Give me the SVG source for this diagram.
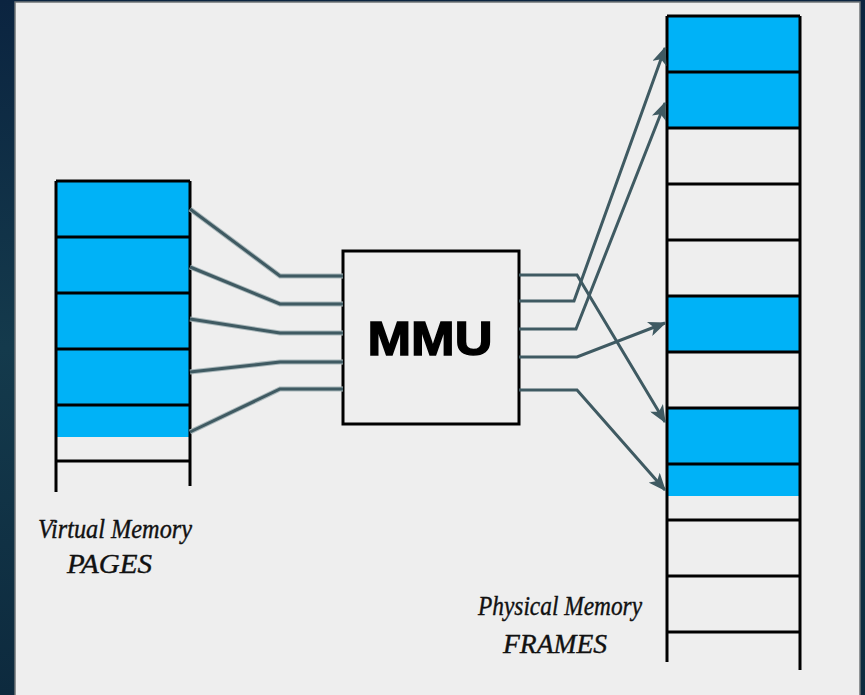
<svg xmlns="http://www.w3.org/2000/svg" width="865" height="695" viewBox="0 0 865 695">
  <defs>
    <linearGradient id="bg" x1="0" y1="0" x2="0" y2="1">
      <stop offset="0" stop-color="#0b2440"/>
      <stop offset="0.5" stop-color="#143a4c"/>
      <stop offset="1" stop-color="#0d2a3e"/>
    </linearGradient>
    <marker id="arrow" viewBox="0 0 12 10" refX="11" refY="5" markerWidth="6" markerHeight="5" orient="auto" markerUnits="strokeWidth">
      <path d="M0,0 L12,5 L0,10 L3,5 Z" fill="#3f5a62"/>
    </marker>
    <style>
      .cell { stroke: #000; stroke-width: 3; fill: none; }
      .blue { fill: #00b2f7; }
      .conn { fill: none; stroke: #3f5a62; stroke-width: 3; stroke-linejoin: miter; }
      .halo { fill: none; stroke: #a9b7ba; stroke-width: 5; }
      .lbl { font-family: "Liberation Serif", "Times New Roman", serif; font-style: italic; fill: #111; stroke: #111; stroke-width: 0.4; }
    </style>
  </defs>

  <rect x="0" y="0" width="865" height="695" fill="url(#bg)"/>
  <rect x="15" y="2" width="845" height="695" fill="#eeeeee" stroke="#6f7477" stroke-width="1.5"/>

  <g id="virtual-memory">
    <rect class="blue" x="56" y="181" width="134" height="256"/>
    <path class="cell" d="M56,181 H190 M56,237 H190 M56,293 H190 M56,349 H190 M56,405 H190 M56,461 H190 M56,181 V492 M190,181 V486"/>
  </g>

  <g id="mmu">
    <rect x="343" y="251" width="176" height="173" fill="none" stroke="#000" stroke-width="3"/>
    <text x="430" y="355" text-anchor="middle" font-family="Liberation Sans, Arial, sans-serif" font-weight="bold" font-size="49" textLength="125" lengthAdjust="spacingAndGlyphs" fill="#000" stroke="#000" stroke-width="1.5">MMU</text>
  </g>

  <g id="physical-memory">
    <rect class="blue" x="667" y="16" width="133" height="112"/>
    <rect class="blue" x="667" y="296" width="133" height="56"/>
    <rect class="blue" x="667" y="408" width="133" height="88"/>
    <path class="cell" d="M667,16 H800 M667,72 H800 M667,128 H800 M667,184 H800 M667,240 H800 M667,296 H800 M667,352 H800 M667,408 H800 M667,464 H800 M667,520 H800 M667,576 H800 M667,632 H800 M667,16 V662 M800,16 V670"/>
  </g>

  <g id="connectors">
    <g class="halo">
      <path d="M190,209 L280,276 H343"/>
      <path d="M190,267 L280,304 H343"/>
      <path d="M190,319 L280,333 H343"/>
      <path d="M190,372 L280,362 H343"/>
      <path d="M190,432 L280,389 H343"/>
    </g>
    <path class="conn" d="M190,209 L280,276 H343"/>
    <path class="conn" d="M190,267 L280,304 H343"/>
    <path class="conn" d="M190,319 L280,333 H343"/>
    <path class="conn" d="M190,372 L280,362 H343"/>
    <path class="conn" d="M190,432 L280,389 H343"/>

    <path class="conn" d="M519,275 H577 L665,422" marker-end="url(#arrow)"/>
    <path class="conn" d="M519,301 H574 L665,48" marker-end="url(#arrow)"/>
    <path class="conn" d="M519,329 H576 L665,103" marker-end="url(#arrow)"/>
    <path class="conn" d="M519,357 H577 L665,323" marker-end="url(#arrow)"/>
    <path class="conn" d="M519,390 H577 L665,490" marker-end="url(#arrow)"/>
  </g>

  <g id="labels">
    <text class="lbl" x="38" y="538" font-size="27" textLength="154" lengthAdjust="spacingAndGlyphs">Virtual Memory</text>
    <text class="lbl" x="67" y="573" font-size="28" textLength="85" lengthAdjust="spacingAndGlyphs">PAGES</text>
    <text class="lbl" x="478" y="615" font-size="27" textLength="164" lengthAdjust="spacingAndGlyphs">Physical Memory</text>
    <text class="lbl" x="503" y="653" font-size="28" textLength="104" lengthAdjust="spacingAndGlyphs">FRAMES</text>
  </g>
</svg>
